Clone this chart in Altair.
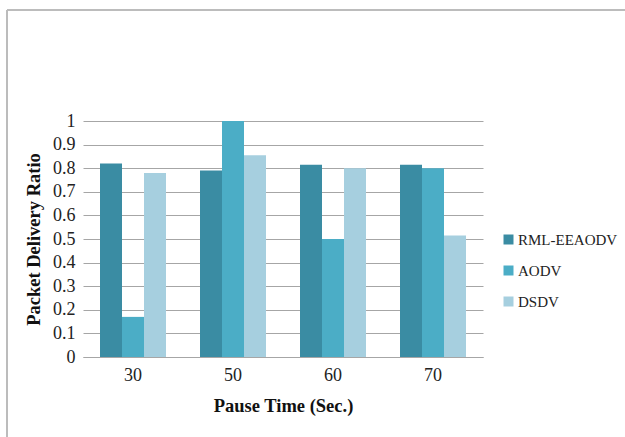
import altair as alt
import pandas as pd

pause_times = ["30", "50", "60", "70"]
series = ["RML-EEAODV", "AODV", "DSDV"]
rml = [0.82, 0.79, 0.815, 0.815]
aodv = [0.17, 1.0, 0.50, 0.80]
dsdv = [0.78, 0.855, 0.80, 0.515]
colors = ["#3a8ca3", "#4badc6", "#a6cfdf"]

rows = []
for i, t in enumerate(pause_times):
    for s, vals in zip(series, [rml, aodv, dsdv]):
        rows.append({"time": t, "protocol": s, "value": vals[i]})
df = pd.DataFrame(rows)

FONT = "Liberation Serif"

bars = alt.Chart(df).mark_bar().encode(
    x=alt.X("time:N", sort=pause_times,
            scale=alt.Scale(paddingInner=0.34, paddingOuter=0.17),
            axis=alt.Axis(title="Pause Time (Sec.)", labelAngle=0, ticks=False,
                          domain=True, domainColor="#a6a6a6", labelPadding=9,
                          labelFontSize=18, titleFontSize=18.5, titlePadding=12,
                          labelFont=FONT, titleFont=FONT, titleFontWeight="bold",
                          labelColor="#222", titleColor="#111")),
    xOffset=alt.XOffset("protocol:N", sort=series),
    y=alt.Y("value:Q", scale=alt.Scale(domain=[0, 1]),
            axis=alt.Axis(title="Packet Delivery Ratio", values=[i / 10 for i in range(11)],
                          format="~g", ticks=False, domain=False, grid=True,
                          gridColor="#a6a6a6", labelPadding=8,
                          labelFontSize=18, titleFontSize=18.5, titlePadding=9,
                          labelFont=FONT, titleFont=FONT, titleFontWeight="bold",
                          labelColor="#222", titleColor="#111")),
    color=alt.Color("protocol:N", sort=series,
                    scale=alt.Scale(domain=series, range=colors),
                    legend=alt.Legend(title=None, orient="none", legendX=418, legendY=111,
                                      symbolType="square", symbolSize=100,
                                      symbolStrokeWidth=0, rowPadding=15,
                                      labelFont=FONT, labelFontSize=15,
                                      labelColor="#222",
                                      labelLimit=0, labelOffset=2)),
)

frame_left = alt.Chart(df).mark_rule(color="#bdbdbd", strokeWidth=1.5).encode(
    x=alt.value(-76), y=alt.value(-111), y2=alt.value(330))
frame_top = alt.Chart(df).mark_rule(color="#bdbdbd", strokeWidth=1.5).encode(
    x=alt.value(-76), x2=alt.value(560), y=alt.value(-111))

chart = alt.layer(frame_left, frame_top, bars).properties(
    width=400, height=236,
    padding={"left": 83, "top": 121, "right": 142, "bottom": 80},
    autosize=alt.AutoSizeParams(type="none"),
    background="white",
).configure(font=FONT).configure_view(stroke=None)

chart.save("out.html", embed_options={"renderer": "svg", "actions": False})
